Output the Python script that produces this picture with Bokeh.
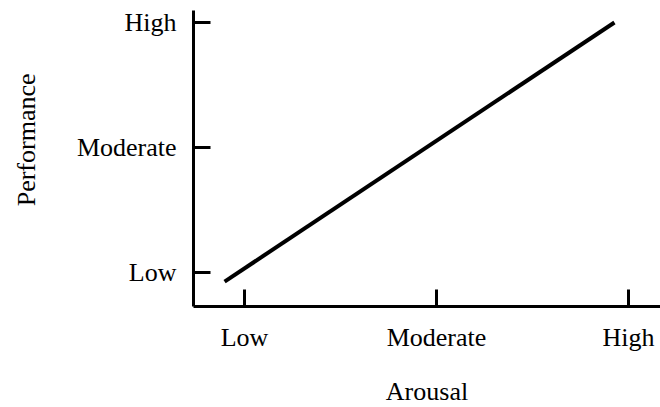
from bokeh.plotting import figure
from bokeh.models import FixedTicker, LinearAxis, Range1d, Title
from bokeh.embed import file_html
from bokeh.resources import INLINE

# Data
x_levels = [1, 2, 3]
x_labels = ["Low", "Moderate", "High"]
y_levels = [1, 2, 3]
y_labels = ["Low", "Moderate", "High"]
line_x = [0.896, 2.927]
line_y = [0.928, 3.0]

FONT = "Liberation Serif"
FS = "26px"

p = figure(width=660, height=407, output_backend="svg", toolbar_location=None,
           x_range=Range1d(0.734, 3.167), y_range=Range1d(0.729, 3.096),
           min_border_left=193, min_border_top=10, min_border_bottom=100, min_border_right=0)
p.outline_line_color = None
p.grid.visible = False
p.background_fill_color = "white"
p.border_fill_color = "white"

p.line(line_x, line_y, line_width=4, line_color="black", line_cap="butt")

for ax, ticks, labels in ((p.xaxis[0], x_levels, x_labels), (p.yaxis[0], y_levels, y_labels)):
    ax.ticker = FixedTicker(ticks=ticks)
    ax.major_label_overrides = {t: l for t, l in zip(ticks, labels)}
    ax.minor_tick_line_color = None
    ax.minor_tick_out = 0
    ax.major_tick_in = 17
    ax.major_tick_out = 0
    ax.major_tick_line_width = 3
    ax.major_tick_line_color = "black"
    ax.axis_line_width = 3
    ax.axis_line_color = "black"
    ax.major_label_text_font = FONT
    ax.major_label_text_font_size = FS
    ax.major_label_text_color = "black"
    ax.major_label_standoff = 16
p.yaxis[0].major_label_standoff = 17


def spacer(size, at):
    # blank axis used only to reserve room between an axis and its title
    return LinearAxis(ticker=FixedTicker(ticks=[at], minor_ticks=[]), major_tick_out=size,
                      major_tick_in=0, minor_tick_out=0, minor_tick_in=0,
                      major_tick_line_color="white", minor_tick_line_color=None,
                      axis_line_color=None, major_label_standoff=0,
                      major_label_overrides={at: ""}, major_label_text_font_size="0px")


p.add_layout(spacer(31, 2.5), "left")
p.add_layout(Title(text="Performance", text_font=FONT, text_font_size=FS,
                   text_font_style="normal", text_color="black",
                   align="right", offset=63, vertical_align="top", standoff=0), "left")

p.add_layout(spacer(22, 0.8), "below")
p.add_layout(Title(text="Arousal", text_font=FONT, text_font_size=FS,
                   text_font_style="normal", text_color="black",
                   align="center", vertical_align="top", standoff=0), "below")

open("out.html", "w").write(file_html(p, INLINE))
